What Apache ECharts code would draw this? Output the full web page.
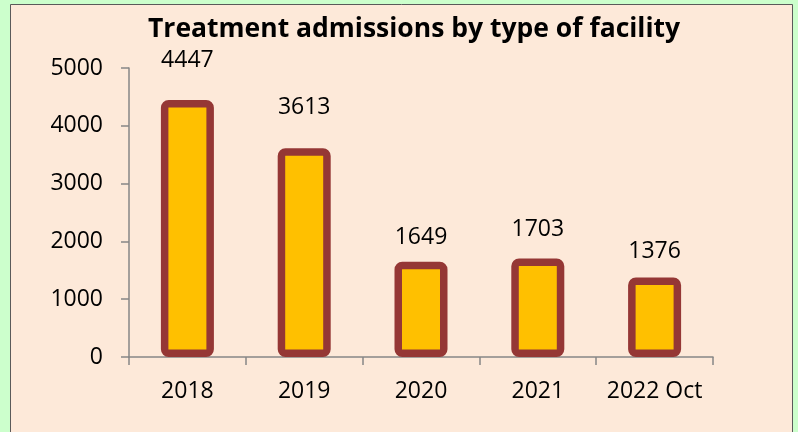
<!DOCTYPE html>
<html>
<head>
<meta charset="utf-8">
<script src="https://cdn.jsdelivr.net/npm/echarts@6/dist/echarts.min.js"></script>
<style>
  html, body { margin: 0; padding: 0; background: #ccffcc; }
  #chart { width: 798px; height: 432px; }
</style>
</head>
<body>
<div id="chart"></div>
<script>
const titleText = 'Treatment admissions by type of facility';
const categories = ['2018', '2019', '2020', '2021', '2022 Oct'];
const admissions = [4447, 3613, 1649, 1703, 1376];
const yTicks = [0, 1000, 2000, 3000, 4000, 5000];
// label gaps differ per bar in the original picture
const labelGap = [28, 29, 13, 18, 15];

const chart = echarts.init(document.getElementById('chart'));

const option = {
  animation: false,
  backgroundColor: '#ccffcc',
  graphic: [
    {
      type: 'rect',
      z: -10,
      silent: true,
      shape: { x: 10.5, y: 4.5, width: 782, height: 440 },
      style: { fill: '#fde9d9', stroke: '#5a5a5a', lineWidth: 1 }
    }
  ],
  title: {
    text: titleText,
    left: 143,
    top: 11,
    textStyle: {
      fontFamily: 'Open Sans',
      fontWeight: 'bold',
      fontSize: 26.5,
      color: '#000'
    }
  },
  grid: {
    left: 129,
    right: 85,
    top: 68,
    bottom: 75
  },
  xAxis: {
    type: 'category',
    data: categories,
    axisLine: { lineStyle: { color: '#868686', width: 1.5 } },
    axisTick: { show: true, length: 8, lineStyle: { color: '#868686', width: 1.5 } },
    axisLabel: {
      interval: 0,
      margin: 23,
      fontFamily: 'Open Sans',
      fontSize: 23,
      color: '#000'
    }
  },
  yAxis: {
    type: 'value',
    min: yTicks[0],
    max: yTicks[yTicks.length - 1],
    interval: 1000,
    splitLine: { show: false },
    axisLine: { show: true, lineStyle: { color: '#868686', width: 1.5 } },
    axisTick: { show: true, length: 8, lineStyle: { color: '#868686', width: 1.5 } },
    axisLabel: {
      margin: 26,
      fontFamily: 'Open Sans',
      fontSize: 23,
      color: '#000',
      formatter: (v) => String(v)
    }
  },
  series: [
    {
      type: 'bar',
      barWidth: 53,
      data: admissions.map((v, i) => ({
        value: v,
        label: { distance: labelGap[i] }
      })),
      itemStyle: {
        color: '#ffc000',
        borderColor: '#953735',
        borderWidth: 7.5,
        borderRadius: 4
      },
      label: {
        show: true,
        position: 'top',
        fontFamily: 'Open Sans',
        fontSize: 23,
        color: '#000'
      }
    }
  ]
};

chart.setOption(option);
</script>
</body>
</html>
